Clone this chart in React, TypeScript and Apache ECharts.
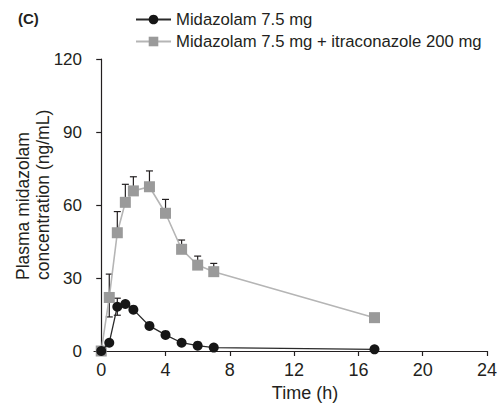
import React, { useEffect, useRef } from "react";
import * as echarts from "echarts";

const times = [0, 0.5, 1, 1.5, 2, 3, 4, 5, 6, 7, 17];
const midazolam = [0, 3.4, 18.2, 19.3, 17, 10.3, 6.6, 3.4, 2.2, 1.4, 0.7];
const midazolamErrUp = [0, 0, 3.5, 0, 0, 0, 0, 0, 0, 0, 0];
const midazolamErrDown = [0, 0, 3.5, 0, 0, 0, 0, 0, 0, 0, 0];
const withItra = [0, 22, 48.6, 61.1, 65.8, 67.5, 56.6, 41.8, 35.3, 32.6, 13.7];
const withItraErrUp = [0, 9.6, 8.7, 7.4, 5.8, 6.5, 5.7, 3.8, 3.7, 3.4, 0];
const withItraErrDown = [0, 8, 0, 0, 0, 0, 0, 0, 0, 0, 0];
const xTicks = [0, 4, 8, 12, 16, 20, 24];
const seriesNames = ["Midazolam 7.5 mg", "Midazolam 7.5 mg + itraconazole 200 mg"];

const FONT = "'Liberation Sans', Arial, Helvetica, sans-serif";
const TEXT = "#231f20";

function errData(vals: number[], up: number[], down: number[]) {
  return times
    .map((t, i) => [t, vals[i] - down[i], vals[i] + up[i]])
    .filter((d) => d[2] - d[1] > 0);
}

function makeErrSeries(data: number[][]) {
  return {
    type: "custom",
    z: 1,
    silent: true,
    data,
    renderItem: (params: any, api: any) => {
      const x = api.value(0);
      const lo = api.coord([x, api.value(1)]);
      const hi = api.coord([x, api.value(2)]);
      const w = 3.5;
      const style = { stroke: "#231f20", lineWidth: 1.2 };
      return {
        type: "group",
        children: [
          { type: "line", shape: { x1: lo[0], y1: lo[1], x2: hi[0], y2: hi[1] }, style },
          { type: "line", shape: { x1: hi[0] - w, y1: hi[1], x2: hi[0] + w, y2: hi[1] }, style },
          { type: "line", shape: { x1: lo[0] - w, y1: lo[1], x2: lo[0] + w, y2: lo[1] }, style },
        ],
      };
    },
  };
}

export default function App() {
  const ref = useRef<HTMLDivElement>(null);
  useEffect(() => {
    if (!ref.current) return;
    const chart = echarts.init(ref.current, undefined, { renderer: "svg" });
    chart.setOption({
      animation: false,
      textStyle: { fontFamily: FONT },
      grid: { left: 94, right: 11, top: 59, bottom: 55 },
      graphic: [
        {
          type: "text",
          x: 18,
          y: 18,
          style: {
            text: "(C)",
            fontFamily: FONT,
            fontSize: 15,
            fontWeight: "bold",
            fill: TEXT,
            textVerticalAlign: "middle",
          },
        },
        {
          type: "text",
          x: 33,
          y: 280,
          rotation: Math.PI / 2,
          style: {
            text: "Plasma midazolam\nconcentration (ng/mL)",
            fontFamily: FONT,
            fontSize: 17.5,
            lineHeight: 20,
            fill: TEXT,
            textAlign: "left",
            textVerticalAlign: "middle",
          },
        },
        {
          type: "text",
          x: 305,
          y: 393,
          style: {
            text: "Time (h)",
            fontFamily: FONT,
            fontSize: 18,
            fill: TEXT,
            textAlign: "center",
            textVerticalAlign: "middle",
          },
        },
      ],
      legend: {
        orient: "vertical",
        left: 130,
        top: 6,
        itemWidth: 35,
        itemHeight: 12,
        itemGap: 5,
        data: seriesNames,
        textStyle: { fontFamily: FONT, fontSize: 16.7, color: TEXT, padding: [0, 0, 0, 0] },
      },
      xAxis: {
        type: "value",
        min: -0.45,
        max: 24,
        splitLine: { show: false },
        axisLine: { lineStyle: { color: TEXT, width: 1.2 } },
        axisTick: { customValues: xTicks, length: 5, lineStyle: { color: TEXT, width: 1.2 } },
        axisLabel: { customValues: xTicks, fontFamily: FONT, fontSize: 18, color: TEXT, margin: 10 },
      },
      yAxis: {
        type: "value",
        min: 0,
        max: 120,
        interval: 30,
        splitLine: { show: false },
        axisLine: { show: true, lineStyle: { color: TEXT, width: 1.2 } },
        axisTick: { show: true, length: 5, lineStyle: { color: TEXT, width: 1.2 } },
        axisLabel: { fontFamily: FONT, fontSize: 17, color: TEXT, margin: 12 },
      },
      series: [
        makeErrSeries(errData(withItra, withItraErrUp, withItraErrDown)),
        makeErrSeries(errData(midazolam, midazolamErrUp, midazolamErrDown)),
        {
          name: seriesNames[1],
          type: "line",
          z: 3,
          data: times.map((t, i) => [t, withItra[i]]),
          symbol: "rect",
          symbolSize: 11,
          itemStyle: { color: "#9a9a9a" },
          lineStyle: { color: "#b5b5b5", width: 1.6 },
        },
        {
          name: seriesNames[0],
          type: "line",
          z: 4,
          data: times.map((t, i) => [t, midazolam[i]]),
          symbol: "circle",
          symbolSize: 10,
          itemStyle: { color: "#161616" },
          lineStyle: { color: "#2a2a2a", width: 1.3 },
        },
      ],
    });
    return () => chart.dispose();
  }, []);
  return (
    <div
      ref={ref}
      style={{ position: "absolute", left: 0, top: 0, width: 500, height: 406 }}
    />
  );
}
